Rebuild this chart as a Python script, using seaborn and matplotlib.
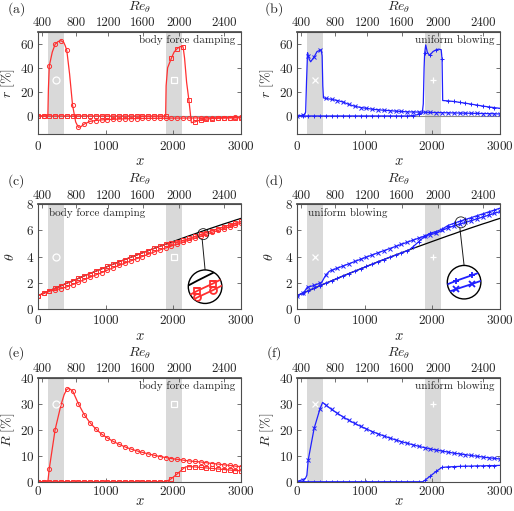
import matplotlib
matplotlib.use("Agg")
import matplotlib.pyplot as plt
from matplotlib.patches import Circle, Ellipse, ConnectionPatch
import seaborn as sns

# streamwise stations carrying markers
x_stations = [0, 86, 171, 257, 343, 429, 514, 600, 686, 771, 857, 943, 1029, 1114,
              1200, 1286, 1371, 1457, 1543, 1629, 1714, 1800, 1886, 1971, 2057, 2143,
              2229, 2314, 2400, 2486, 2571, 2657, 2743, 2829, 2914, 3000]
forcing_up = (150, 390)
forcing_down = (1886, 2133)

re_theta_ticks = [400, 800, 1200, 1600, 2000, 2400]
re_theta_tick_x = [70, 570, 1040, 1550, 2090, 2750]

# (a) r [%] body force damping
r_bfd_up = [0, 0, 41.5, 59.5, 62.5, 54.5, 9.0, -9.5, -6.8, -4.5, -3.8, -3.3, -3.0, -2.8,
            -2.6, -2.4, -2.3, -2.2, -2.1, -2.0, -2.0, -1.9, -1.9, -1.8, -1.8, -1.8,
            -1.7, -1.7, -1.6, -1.6, -1.5, -1.5, -1.4, -1.4, -1.3, -1.3]
r_bfd_up_knots = [(150, 0.0), (158, 22.0), (215, 53.0), (300, 61.8), (385, 61.0),
                  (405, 58.5), (470, 35.0), (560, -5.0), (640, -8.8)]
r_bfd_down = [0] * 23 + [48.0, 56.0, 57.5, 13.0, -5.0, -3.3, -2.6, -2.2, -2.0, -1.8,
                         -1.7, -1.6, -1.5]
r_bfd_down_knots = [(1893, 25.0), (1915, 40.0), (2010, 53.0), (2100, 57.6), (2165, 48.0),
                    (2195, 28.0), (2265, -5.6)]

# (b) r [%] uniform blowing
r_ub_up = [0.0, 0.5, 50.0, 49.0, 54.5, 14.5, 13.8, 12.8, 11.5, 9.5, 8.0, 7.0, 6.3, 5.6,
           5.1, 4.7, 4.4, 4.0, 3.7, 3.4, 3.3, 3.2, 3.1, 2.9, 2.8, 2.7, 2.6, 2.5, 2.4,
           2.3, 2.2, 2.1, 2.0, 1.9, 1.8, 1.6]
r_ub_up_knots = [(110, 1.0), (132, 3.0), (146, 30.0), (160, 52.5), (185, 47.0),
                 (206, 45.0), (300, 53.5), (360, 55.0), (375, 50.0), (385, 25.0),
                 (395, 15.0)]
r_ub_down = [0.0] * 20 + [0.3, 1.2, 52.0, 51.0, 55.0, 47.0, 12.5, 12.0, 11.3, 10.6, 9.8,
                          9.0, 8.2, 7.5, 6.9, 6.3]
r_ub_down_knots = [(1850, 2.0), (1866, 10.0), (1878, 40.0), (1902, 59.0), (1925, 53.0),
                   (1955, 50.5), (2010, 53.5), (2095, 55.5), (2130, 55.0), (2152, 12.8)]

# (c), (d) momentum thickness
theta_ref = [1.00, 1.20, 1.39, 1.58, 1.78, 1.97, 2.15, 2.34, 2.53, 2.71, 2.89, 3.07, 3.25,
             3.43, 3.61, 3.78, 3.95, 4.12, 4.29, 4.46, 4.63, 4.79, 4.95, 5.11, 5.27, 5.43,
             5.59, 5.74, 5.90, 6.05, 6.20, 6.35, 6.50, 6.64, 6.79, 6.93]
theta_bfd_up = [1.00, 1.20, 1.36, 1.46, 1.56, 1.69, 1.86, 2.05, 2.24, 2.42, 2.60, 2.78,
                2.97, 3.15, 3.33, 3.50, 3.67, 3.84, 4.01, 4.18, 4.35, 4.51, 4.66, 4.81,
                4.96, 5.11, 5.27, 5.41, 5.57, 5.71, 5.86, 6.00, 6.15, 6.28, 6.43, 6.56]
theta_bfd_down = theta_ref[:23] + [5.04, 5.13, 5.24, 5.39, 5.54, 5.70, 5.84, 5.99, 6.13,
                                   6.28, 6.42, 6.56, 6.70]
theta_ub_up = [1.00, 1.22, 1.68, 1.80, 1.98, 2.60, 2.95, 3.12, 3.29, 3.46, 3.63, 3.80,
               3.97, 4.13, 4.30, 4.46, 4.62, 4.78, 4.94, 5.10, 5.26, 5.42, 5.58, 5.68,
               5.80, 6.00, 6.20, 6.34, 6.48, 6.61, 6.75, 6.89, 7.03, 7.17, 7.31, 7.45]
theta_ub_up_knots = [(110, 1.30), (150, 1.62), (370, 2.05), (480, 2.88)]
theta_ub_down = theta_ref[:20] + [4.75, 5.15, 5.55, 5.80, 5.92, 6.10, 6.38, 6.54, 6.70,
                                  6.84, 6.98, 7.13, 7.27, 7.42, 7.56, 7.71]
theta_ub_down_knots = [(1660, 4.52)]

# (e), (f) R [%]
R_bfd_up = [0, 0, 5.0, 20.0, 29.5, 35.5, 35.0, 30.0, 25.8, 22.7, 20.3, 18.3, 16.8, 15.5,
            14.4, 13.4, 12.6, 11.9, 11.3, 10.7, 10.2, 9.7, 9.3, 8.9, 8.6, 8.3, 8.0, 7.8,
            7.6, 7.3, 7.0, 6.8, 6.5, 6.3, 6.0, 5.8]
R_bfd_up_knots = [(150, 0.0), (390, 33.5), (460, 35.9)]
R_bfd_down = [0] * 23 + [1.2, 3.0, 5.0, 5.8, 5.7, 5.5, 5.3, 5.1, 4.9, 4.7, 4.5, 4.3, 4.2]
R_bfd_down_knots = [(1900, 0.1), (2180, 5.7)]
R_ub_up = [0.0, 0.8, 8.5, 20.5, 28.0, 29.5, 27.8, 26.3, 24.9, 23.6, 22.4, 21.3, 20.3,
           19.3, 18.4, 17.6, 16.8, 16.1, 15.4, 14.8, 14.2, 13.6, 13.1, 12.6, 12.2, 11.8,
           11.4, 11.0, 10.7, 10.4, 10.1, 9.8, 9.5, 9.2, 9.0, 8.7]
R_ub_up_knots = [(130, 1.3), (150, 2.5), (382, 30.5)]
R_ub_down = [0.0] * 22 + [0.5, 2.2, 4.0, 5.5, 5.7, 5.8, 5.9, 6.0, 6.0, 6.1, 6.1, 6.2, 6.2, 6.3]
R_ub_down_knots = [(1860, 0.0), (2130, 5.3)]

RED = "#ff3030"
BLUE = "#2020ff"
SPAN = "#d9d9d9"

sns.set_theme(style="ticks")
plt.rcParams["font.family"] = ["cmr10"]
plt.rcParams["mathtext.fontset"] = "cm"
plt.rcParams["axes.formatter.use_mathtext"] = True
plt.rcParams["axes.unicode_minus"] = False


def curve(values, knots=()):
    pts = dict(zip(x_stations, values))
    for kx, ky in knots:
        pts[kx] = ky
    xs = sorted(pts)
    ys = [pts[k] for k in xs]
    mask = [k in x_stations for k in xs]
    return xs, ys, mask


def draw(ax, values, knots, color, marker, ms=3.0, lw=0.9, mew=0.7):
    xs, ys, mask = curve(values, knots)
    sns.lineplot(x=xs, y=ys, ax=ax, color=color, lw=lw, marker=marker, markevery=mask,
                 markersize=ms, markerfacecolor="none", markeredgecolor=color,
                 markeredgewidth=mew, sort=False, estimator=None)


def frame(ax, ylim, yticks, ylabel, text, text_left, syms, sym_y, xlab_y, tick_pad):
    ax.axvspan(*forcing_up, color=SPAN, lw=0, zorder=0)
    ax.axvspan(*forcing_down, color=SPAN, lw=0, zorder=0)
    for span, m in zip((forcing_up, forcing_down), syms):
        ax.plot(sum(span) / 2, sym_y, marker=m, ms=5, mfc="none", mec="white", mew=0.9,
                zorder=3)
    ax.set_xlim(0, 3000)
    ax.set_ylim(*ylim)
    ax.set_xticks([0, 1000, 2000, 3000])
    ax.set_yticks(yticks)
    ax.tick_params(direction="in", length=3, width=0.6, color="0.35", labelsize=9.5,
                   right=True, top=False)
    ax.tick_params(axis="x", pad=tick_pad)
    ax.tick_params(axis="y", pad=2.5)
    for s in ax.spines.values():
        s.set_visible(True)
        s.set_color("0.3")
        s.set_linewidth(0.8)
    ax.set_xlabel(r"$x$", fontsize=10.5)
    ax.xaxis.set_label_coords(0.5, xlab_y)
    ax.set_ylabel(ylabel, fontsize=10)
    ax.yaxis.set_label_coords(-0.1, 0.5)
    sec = ax.secondary_xaxis("top")
    sec.set_xticks(re_theta_tick_x, labels=[str(v) for v in re_theta_ticks])
    sec.tick_params(direction="in", length=3, width=0.6, color="0.35", labelsize=9.2,
                    pad=2.0)
    sec.spines["top"].set_color("0.3")
    sec.set_xlabel(r"$Re_\theta$", fontsize=10)
    sec.xaxis.set_label_coords(0.5, 1.205, transform=ax.transAxes)
    if text_left:
        ax.text(0.055, 0.965, text, transform=ax.transAxes, ha="left", va="top",
                fontsize=8)
    else:
        ax.text(0.97, 0.965, text, transform=ax.transAxes, ha="right", va="top",
                fontsize=8)


def magnifier(ax, spot, spot_r, window, lens_rect, series):
    sx, sy = spot
    ax.add_patch(Ellipse((sx, sy), 2 * spot_r[0], 2 * spot_r[1], fill=False, ec="0.1",
                         lw=0.6, zorder=5))
    lens = ax.inset_axes(lens_rect)
    (x0, x1), (y0, y1) = window
    lens.set_xlim(x0, x1)
    lens.set_ylim(y0, y1)
    lens.set_xticks([])
    lens.set_yticks([])
    lens.axis("off")
    disc = Circle((0.5, 0.5), 0.5, transform=lens.transAxes, fc="white", ec="none")
    lens.add_patch(disc)
    for values, color, marker in series:
        draw(lens, values, (), color, marker, ms=5, lw=1.3, mew=1.3)
    for ln in lens.lines:
        ln.set_clip_path(disc)
    lens.add_patch(Circle((0.5, 0.5), 0.5, transform=lens.transAxes, fill=False,
                          ec="black", lw=1.0, clip_on=False))
    con = ConnectionPatch(xyA=(sx - 15, sy - spot_r[1]), coordsA=ax.transData,
                          xyB=(0.5, 1.0), coordsB=lens.transAxes, color="0.1", lw=0.7)
    ax.add_artist(con)


fig = plt.figure(figsize=(5.14, 5.11), dpi=100)
L, R_ = 0.0733, 0.5772
W = 0.396
rows = [(0.7378, 0.2002), (0.3953, 0.2049), (0.0573, 0.2035)]
xlab_pos = [-0.2, -0.19, -0.125]
tick_pads = [4.5, 3.5, 2.5]
axes = {}
for i, (b, h) in enumerate(rows):
    axes["abcdef"[2 * i]] = fig.add_axes([L, b, W, h])
    axes["abcdef"[2 * i + 1]] = fig.add_axes([R_, b, W, h])

# (a)
ax = axes["a"]
ax.axhline(0, color="0.55", lw=0.8, zorder=1)
draw(ax, r_bfd_down, r_bfd_down_knots, RED, "s")
draw(ax, r_bfd_up, r_bfd_up_knots, RED, "o")
frame(ax, (-15, 70), [0, 20, 40, 60], r"$r\ [\%]$", "body force damping", False,
      ("o", "s"), 30, xlab_pos[0], tick_pads[0])

# (b)
ax = axes["b"]
ax.axhline(0, color="0.55", lw=0.8, zorder=1)
draw(ax, r_ub_down, r_ub_down_knots, BLUE, "+", ms=3.0)
draw(ax, r_ub_up, r_ub_up_knots, BLUE, "x", ms=2.3)
frame(ax, (-15, 70), [0, 20, 40, 60], r"$r\ [\%]$", "uniform blowing", False,
      ("x", "+"), 30, xlab_pos[0], tick_pads[0])

# (c)
ax = axes["c"]
sns.lineplot(x=x_stations, y=theta_ref, ax=ax, color="black", lw=0.9)
draw(ax, theta_bfd_down, (), RED, "s")
draw(ax, theta_bfd_up, (), RED, "o")
frame(ax, (0, 8), [0, 2, 4, 6, 8], r"$\theta$", "body force damping", True,
      ("o", "s"), 4, xlab_pos[1], tick_pads[1])
magnifier(ax, (2440, 5.72), (81, 0.42), ((2348, 2538), (5.45, 6.11)),
          [0.74, 0.053, 0.165, 0.32],
          [(theta_ref, "black", None), (theta_bfd_down, RED, "s"),
           (theta_bfd_up, RED, "o")])

# (d)
ax = axes["d"]
sns.lineplot(x=x_stations, y=theta_ref, ax=ax, color="black", lw=0.9)
draw(ax, theta_ub_down, theta_ub_down_knots, BLUE, "+", ms=3.0)
draw(ax, theta_ub_up, theta_ub_up_knots, BLUE, "x", ms=2.3)
frame(ax, (0, 8), [0, 2, 4, 6, 8], r"$\theta$", "uniform blowing", True,
      ("x", "+"), 4, xlab_pos[1], tick_pads[1])
magnifier(ax, (2420, 6.62), (81, 0.42), ((2348, 2538), (6.22, 7.10)),
          [0.74, 0.096, 0.165, 0.32],
          [(theta_ub_down, BLUE, "+"), (theta_ub_up, BLUE, "x")])

# (e)
ax = axes["e"]
draw(ax, R_bfd_down, R_bfd_down_knots, RED, "s")
draw(ax, R_bfd_up, R_bfd_up_knots, RED, "o")
frame(ax, (0, 40), [0, 10, 20, 30, 40], r"$R\ [\%]$", "body force damping", False,
      ("o", "s"), 30, xlab_pos[2], tick_pads[2])

# (f)
ax = axes["f"]
draw(ax, R_ub_down, R_ub_down_knots, BLUE, "+", ms=3.0)
draw(ax, R_ub_up, R_ub_up_knots, BLUE, "x", ms=2.3)
frame(ax, (0, 40), [0, 10, 20, 30, 40], r"$R\ [\%]$", "uniform blowing", False,
      ("x", "+"), 30, xlab_pos[2], tick_pads[2])

for lab, (px, py) in zip("abcdef", [(16, 9.5), (274, 9.5), (16, 181), (274, 181),
                                     (16, 353), (274, 353)]):
    fig.text(px / 514, 1 - py / 511, rf"$\mathrm{{({lab})}}$", ha="center", va="center",
             fontsize=10)

fig.savefig("out.png", dpi=100)
